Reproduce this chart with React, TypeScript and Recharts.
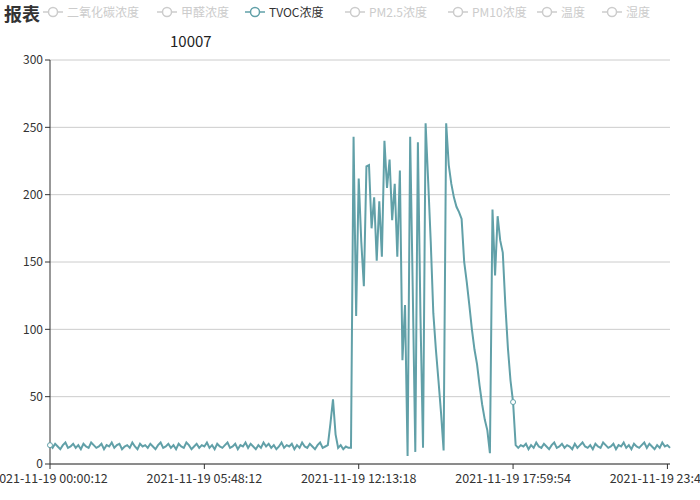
import { LineChart, Line, XAxis, YAxis, CartesianGrid } from "recharts";

// x tick labels, shown at these point indices
const tickIndex = [0, 60, 120, 180, 240];
const tickLabels = [
  "2021-11-19 00:00:12",
  "2021-11-19 05:48:12",
  "2021-11-19 12:13:18",
  "2021-11-19 17:59:54",
  "2021-11-19 23:47:36",
];
const yTicks = [0, 50, 100, 150, 200, 250, 300];

const legendNames = ["二氧化碳浓度", "甲醛浓度", "TVOC浓度", "PM2.5浓度", "PM10浓度", "温度", "湿度"];
const activeName = "TVOC浓度";

// TVOC readings
const tvoc = [
  14, 12, 15, 13, 11, 14, 16, 12, 13, 15,
  12, 14, 11, 15, 13, 12, 16, 14, 12, 13,
  15, 11, 14, 13, 16, 12, 14, 15, 11, 13,
  14, 12, 16, 13, 11, 15, 13, 14, 12, 15,
  13, 11, 14, 16, 12, 13, 15, 12, 14, 11,
  15, 13, 12, 16, 14, 11, 13, 15, 12, 14,
  13, 16, 12, 14, 11, 15, 13, 12, 14, 16,
  12, 13, 15, 11, 14, 13, 16, 12, 15, 13,
  11, 14, 12, 16, 13, 15, 12, 14, 11, 13,
  16, 12, 14, 13, 15, 11, 14, 12, 16, 13,
  12, 15, 13, 11, 14, 16, 12, 13, 14,
  30, 48, 22, 12, 14, 11, 13, 12, 12,
  243, 110, 212, 165, 132, 221, 222, 175, 198, 151, 195, 154, 240, 205, 226, 181, 208, 154, 218,
  77, 118, 6, 243, 130, 9, 239, 110, 12, 253, 210, 165, 112, 85, 62, 38, 10,
  253, 222, 208, 198, 191, 187, 182, 150, 135, 118, 100, 85, 74, 58, 44, 33, 25, 8,
  189, 140, 184, 166, 157, 118, 86, 62, 46, 14,
  12, 14, 13, 15, 11, 14, 12, 16, 13, 12,
  15, 13, 11, 14, 16, 12, 13, 15, 12, 14,
  13, 11, 15, 12, 14, 16, 13, 12, 14, 11,
  15, 13, 12, 16, 14, 12, 13, 15, 11, 14,
  13, 16, 12, 14, 11, 15, 13, 12, 14, 16,
  12, 15, 13, 11, 14, 12, 16, 13, 14, 12,
];
const markerIndex = [0, 180];

const data = tvoc.map((v, i) => ({ i, v }));

const COLOR = "#61a0a8";
const FONT = "'Noto Sans CJK SC', 'Noto Sans', sans-serif";
// left edge of each legend item
const legendLeft = [43, 157, 245, 345, 448, 537, 602];

const LegendIcon = ({ color }: { color: string }) => (
  <svg width={20} height={12} style={{ display: "block" }}>
    <line x1={0} y1={6} x2={20} y2={6} stroke={color} strokeWidth={1.5} />
    <circle cx={10} cy={6} r={4.5} fill="#fff" stroke={color} strokeWidth={1.5} />
  </svg>
);

const renderDot = (props: any) => {
  const { cx, cy, index } = props;
  if (!markerIndex.includes(index)) return <g key={`d${index}`} />;
  return (
    <circle key={`d${index}`} cx={cx} cy={cy} r={2.5} fill="#fff" stroke={COLOR} strokeWidth={1} />
  );
};

export default function App() {
  return (
    <div
      style={{
        position: "fixed",
        left: 0,
        top: 0,
        width: 700,
        height: 500,
        background: "#fff",
        fontFamily: FONT,
        overflow: "hidden",
      }}
    >
      <LineChart
        width={700}
        height={500}
        data={data}
        margin={{ top: 60, right: 30, bottom: 0, left: 0 }}
        style={{ position: "absolute", left: 0, top: 0 }}
      >
        <CartesianGrid vertical={false} stroke="#ccc" />
        <XAxis
          type="number"
          dataKey="i"
          domain={[0, 241]}
          ticks={tickIndex}
          interval={0}
          height={36}
          tickSize={5}
          tickMargin={5}
          tickFormatter={(v: number) => tickLabels[tickIndex.indexOf(v)]}
          tick={{ fill: "#333", fontSize: 12.5, fontFamily: FONT }}
          axisLine={{ stroke: "#333" }}
          tickLine={{ stroke: "#333" }}
        />
        <YAxis
          domain={[0, 300]}
          ticks={yTicks}
          width={50}
          tickSize={5}
          tick={{ fill: "#333", fontSize: 12, fontFamily: FONT }}
          axisLine={{ stroke: "#333" }}
          tickLine={{ stroke: "#333" }}
        />
        <Line
          type="linear"
          dataKey="v"
          stroke={COLOR}
          strokeWidth={2}
          dot={renderDot}
          activeDot={false}
          isAnimationActive={false}
        />
      </LineChart>

      <div
        style={{
          position: "absolute",
          left: 4,
          top: 1,
          fontSize: 18,
          fontWeight: "bold",
          color: "#333",
          lineHeight: "24px",
        }}
      >
        报表
      </div>
      {legendNames.map((name, k) => {
        const on = name === activeName;
        const c = on ? COLOR : "#ccc";
        return (
          <div
            key={name}
            style={{
              position: "absolute",
              left: legendLeft[k],
              top: 5,
              display: "flex",
              alignItems: "center",
              gap: 4,
              fontSize: 12,
              lineHeight: "14px",
              color: on ? "#333" : "#ccc",
            }}
          >
            <LegendIcon color={c} />
            <span>{name}</span>
          </div>
        );
      })}
      <div
        style={{
          position: "absolute",
          left: 170,
          top: 31,
          fontSize: 15,
          color: "#222",
          lineHeight: "20px",
        }}
      >
        10007
      </div>
    </div>
  );
}
